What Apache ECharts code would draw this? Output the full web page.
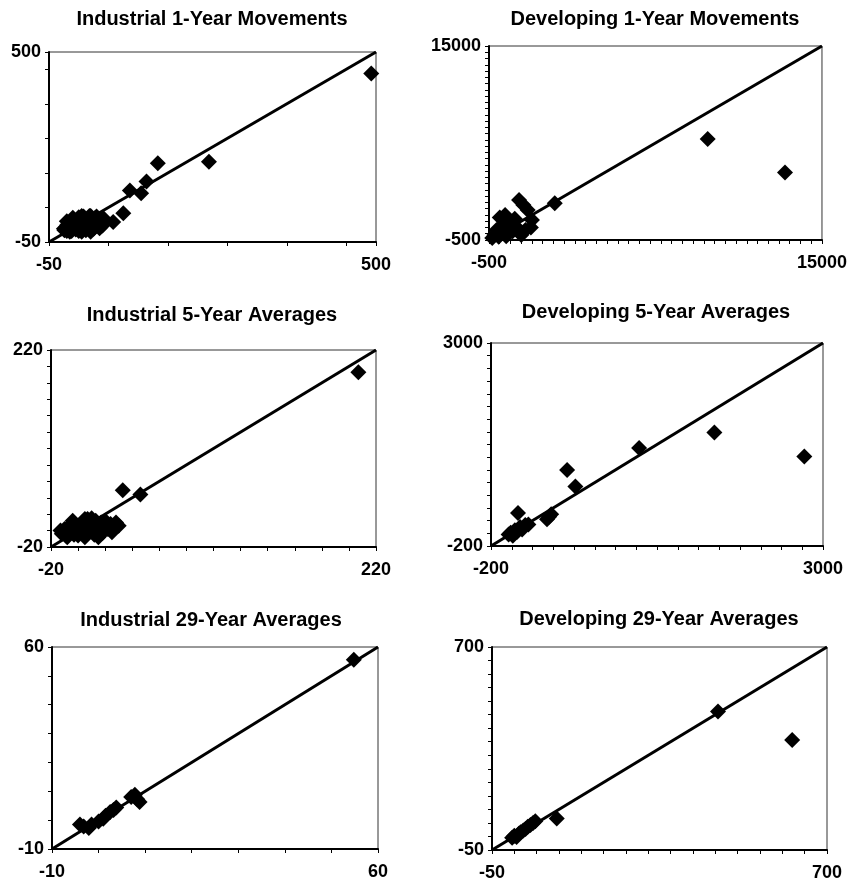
<!DOCTYPE html>
<html>
<head>
<meta charset="utf-8">
<script src="https://cdn.jsdelivr.net/npm/echarts@6/dist/echarts.min.js"></script>
<style>
html,body{margin:0;padding:0;background:#fff;}
#chart{width:850px;height:882px;}
</style>
</head>
<body>
<div id="chart"></div>
<script>
// ---- Data ----
var titles = [
  "Industrial 1-Year Movements", "Developing 1-Year Movements",
  "Industrial 5-Year Averages", "Developing 5-Year Averages",
  "Industrial 29-Year Averages", "Developing 29-Year Averages"
];
// axis ranges (min, max) and tick intervals, same for x and y
var axisMin = [-50, -500, -20, -200, -10, -50];
var axisMax = [500, 15000, 220, 3000, 60, 700];
var tickStep = [100, 500, 20, 200, 10, 50];

var industrial1 = [
  [-24,-16],[-22,-8],[-20,-18],[-19,0],[-17,-12],[-15,8],[-12,-18],[-10,-4],[-8,12],[-5,-14],
  [-3,2],[0,22],[0,-18],[3,10],[5,-8],[8,24],[10,0],[12,-16],[15,15],[18,-6],
  [20,25],[22,8],[25,-12],[28,20],[32,2],[36,14],[40,-2],[42,18],
  [-20,10],[-10,20],[5,25],[18,25],[30,24],[-15,-20],[5,-20],[20,-20],[35,-10],[-25,-12],
  [58,8],[75,33],[86,99],[105,91],[114,125],[133,178],[219,182],[492,438]
];
var developing1 = [
  [-350,-350],[-250,-100],[-150,300],[-50,-250],[0,1300],[100,600],[150,100],[250,1500],
  [300,-200],[400,400],[500,900],[600,200],[700,1200],[800,500],[900,2700],[1000,-100],
  [1100,2300],[1200,300],[1300,1900],[1450,500],[1500,1100],
  [2560,2430],[9680,7560],[13280,4900]
];
var industrial5 = [
  [-12,-4],[-10,2],[-9,-6],[-7,4],[-6,-2],[-5,8],[-3,-5],[-2,3],[0,6],[0,-6],
  [2,0],[3,10],[4,-4],[6,4],[7,14],[8,-2],[9,8],[10,15],[11,2],[12,-5],
  [13,12],[14,6],[16,0],[17,10],[18,-3],[20,6],[22,2],[24,8],[26,4],[28,10],[30,6],
  [-13,0],[-8,-8],[5,-8],[15,-8],[25,-2],[10,10],[20,12],[-4,12],[5,14],
  [33,49],[46,44],[207,193]
];
var developing5 = [
  [-30,-20],[-10,10],[10,-40],[30,50],[50,20],[80,100],[100,60],[130,130],[160,140],
  [60,320],[340,220],[360,260],[380,300],
  [534,1000],[613,737],[1228,1343],[1953,1589],[2820,1210]
];
var industrial29 = [
  [-4,-1.5],[-3.2,-2.2],[-2.1,-2.7],[-1.5,-1.5],[0,-0.5],[1,0.5],[1.5,1.5],[2.5,2.8],
  [3.2,3.5],[3.8,4.4],[7,8],[7.8,8.8],[8.3,7.2],[8.8,6.3],[54.8,55.6]
];
var developing29 = [
  [-5,-5],[0,3],[5,-2],[10,10],[14,16],[20,22],[25,28],[30,36],[36,42],[42,50],[47,56],
  [95,66],[456,462],[622,356]
];
var panelData = [industrial1, developing1, industrial5, developing5, industrial29, developing29];

// ---- Layout (pixels) ----
var grids = [
  {left:49, top:52, width:327, height:190},
  {left:489, top:46, width:333, height:194},
  {left:51, top:350, width:325, height:197},
  {left:491, top:343, width:332, height:203},
  {left:52, top:647, width:326, height:202},
  {left:492, top:647, width:335, height:205}
];
var titlePos = [[212,19],[655,19],[212,315],[656,312],[211,620],[659,619]];

var FONT = '"Liberation Sans", Arial, sans-serif';

function makeAxis(i, isX){
  var mn = axisMin[i], mx = axisMax[i];
  return {
    gridIndex: i, type: 'value', min: mn, max: mx, interval: tickStep[i],
    axisLine: {show: true, onZero: false, lineStyle: {color: '#000', width: 2}},
    axisTick: {show: true, length: 4, lineStyle: {color: '#000', width: 1}},
    splitLine: {show: false},
    axisLabel: {
      show: true, showMinLabel: true, showMaxLabel: true,
      color: '#000', fontFamily: FONT, fontWeight: 'bold', fontSize: 18,
      margin: isX ? 14 : 8,
      formatter: function(v){ return (v === mn || v === mx) ? String(v) : ''; }
    }
  };
}

var option = {
  animation: false,
  backgroundColor: '#fff',
  grid: grids.map(function(g){
    return {left:g.left, top:g.top, width:g.width, height:g.height,
            show:true, borderColor:'#333', borderWidth:1, backgroundColor:'#fff'};
  }),
  xAxis: panelData.map(function(d,i){ return makeAxis(i, true); }),
  yAxis: panelData.map(function(d,i){ return makeAxis(i, false); }),
  graphic: titles.map(function(t,i){
    return {type:'text', x:titlePos[i][0], y:titlePos[i][1],
      style:{text:t, fill:'#000', font:'bold 20px ' + FONT, textAlign:'center', textVerticalAlign:'middle'}};
  }),
  series: []
};

panelData.forEach(function(d,i){
  option.series.push({
    type:'line', xAxisIndex:i, yAxisIndex:i, symbol:'none', silent:true,
    data:[[axisMin[i],axisMin[i]],[axisMax[i],axisMax[i]]],
    lineStyle:{color:'#000', width:3}, z:2
  });
  option.series.push({
    type:'scatter', xAxisIndex:i, yAxisIndex:i, symbol:'diamond', symbolSize:16,
    data:d, itemStyle:{color:'#000', opacity:1}, clip:false, z:3
  });
});

var chart = echarts.init(document.getElementById('chart'), null, {renderer:'canvas'});
chart.setOption(option);
</script>
</body>
</html>
